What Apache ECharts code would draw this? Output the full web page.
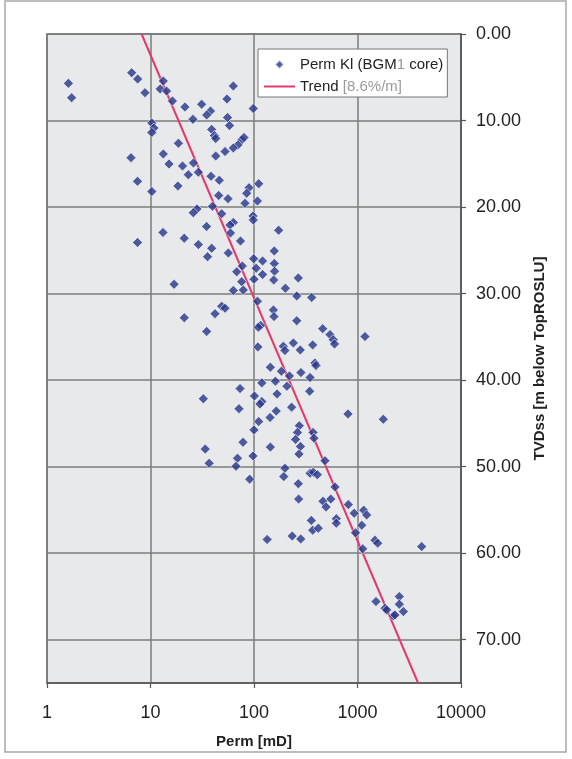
<!DOCTYPE html>
<html><head><meta charset="utf-8">
<script src="https://cdn.jsdelivr.net/npm/echarts@6/dist/echarts.min.js"></script>
<style>html,body{margin:0;padding:0;background:#fff}#c{width:572px;height:759px}</style>
</head><body><div id="c"></div>
<script>
const seriesNames = ['Perm Kl (BGM1 core)', 'Trend [8.6%/m]'];
const xTickLabels = ['1', '10', '100', '1000', '10000'];
const yTickValues = [0, 10, 20, 30, 40, 50, 60, 70];
const permValues = [
1.61, 1.73, 6.58, 7.52, 8.85, 13.3, 12.4, 14.3, 63.1, 54.8,
16.3, 21.5, 31.2, 98.4, 38.0, 34.9, 25.7, 10.3, 10.8, 10.3,
55.5, 58.0, 39.0, 41.5, 42.7, 76.0, 80.0, 70.0, 63.1, 52.5,
18.6, 42.7, 6.48, 13.3, 15.1, 20.4, 26.0, 23.2, 29.0, 38.4,
46.2, 7.49, 18.4, 111, 89.5, 85.0, 10.3, 45.6, 56.1, 81.8,
108, 39.7, 28.1, 25.9, 48.7, 97.8, 98.4, 63.1, 58.6, 34.8,
59.3, 173, 13.2, 7.49, 21.2, 74.1, 29.0, 39.0, 157, 56.5,
35.6, 99.3, 121, 157, 105, 121, 158, 155, 68.1, 77.1,
268, 100, 76.0, 16.9, 63.1, 78.8, 201, 259, 361, 108,
48.7, 52.5, 42.0, 154, 156, 21.2, 259, 116, 110, 461,
34.9, 542, 583, 600, 1181, 109, 192, 199, 240, 280,
369, 388, 397, 144, 184, 284, 348, 220, 119, 161,
73.3, 345, 208, 32.4, 167, 101, 119, 114, 71.6, 231,
164, 143, 809, 1775, 111, 100, 274, 263, 252, 281,
272, 372, 380, 78.3, 144, 33.8, 36.9, 69.3, 67.0, 97.8,
90.8, 485, 199, 194, 348, 374, 409, 268, 606, 270,
464, 497, 552, 815, 929, 1148, 1227, 624, 624, 1099,
358, 369, 418, 957, 234, 283, 134, 1476, 1567, 1122,
4169, 1510, 1845, 1914, 2218, 2301, 2535, 2535, 2773
];
const depthValues = [
5.70, 7.36, 4.47, 5.20, 6.78, 5.43, 6.35, 6.59, 6.01, 7.51,
7.74, 8.43, 8.12, 8.61, 8.90, 9.36, 9.86, 10.28, 10.86, 11.38,
9.65, 10.57, 11.03, 11.73, 12.07, 12.25, 11.96, 12.82, 13.17, 13.58,
12.63, 14.10, 14.29, 13.86, 15.02, 15.25, 14.90, 16.26, 15.97, 16.44,
16.90, 17.02, 17.56, 17.30, 17.76, 18.41, 18.20, 18.66, 19.03, 19.56,
19.30, 19.91, 20.22, 20.65, 20.77, 21.03, 21.49, 21.78, 22.07, 22.24,
22.99, 22.68, 22.93, 24.09, 23.60, 23.92, 24.34, 24.76, 25.07, 25.30,
25.73, 25.96, 26.23, 26.52, 27.07, 27.79, 27.41, 28.42, 27.48, 26.81,
28.19, 28.34, 28.62, 28.92, 29.64, 29.58, 29.38, 30.27, 30.44, 30.88,
31.46, 31.69, 32.32, 31.89, 32.66, 32.79, 33.13, 33.68, 33.89, 34.05,
34.37, 34.74, 35.32, 35.82, 34.97, 36.16, 36.08, 36.57, 35.70, 36.51,
35.93, 38.01, 38.30, 38.51, 38.97, 39.13, 39.69, 39.51, 40.32, 40.12,
40.98, 41.28, 40.70, 42.15, 41.59, 41.83, 42.48, 42.77, 43.30, 43.12,
43.58, 44.31, 43.90, 44.52, 44.79, 45.75, 45.27, 46.04, 46.85, 47.66,
48.55, 46.04, 46.71, 47.18, 47.74, 47.97, 49.60, 49.02, 49.95, 48.76,
51.44, 49.31, 50.18, 51.15, 50.76, 50.64, 50.92, 51.96, 52.34, 53.75,
53.99, 54.65, 53.75, 54.38, 55.38, 55.03, 55.58, 56.01, 56.53, 56.77,
56.21, 57.34, 57.11, 57.65, 58.02, 58.35, 58.41, 58.50, 58.84, 59.50,
59.24, 65.59, 66.35, 66.55, 67.24, 67.13, 65.01, 65.89, 66.75
];
const trendDepth = [0, 75];
const trendPerm = [8.2, 3850];

const FONT = 'Liberation Sans, Arial, sans-serif';
const chart = echarts.init(document.getElementById('c'), null, {renderer: 'canvas'});
const scatterData = permValues.map((p, i) => [p, depthValues[i]]);
const trendData = trendPerm.map((p, i) => [p, trendDepth[i]]);

chart.setOption({
  animation: false,
  backgroundColor: '#ffffff',
  graphic: [{
    type: 'rect', silent: true, z: -10,
    shape: {x: 5, y: 1, width: 561, height: 751},
    style: {fill: 'none', stroke: '#a8a8a8', lineWidth: 1.5}
  }],
  grid: {left: 47, right: 111, top: 34, bottom: 76, show: true,
    backgroundColor: '#e7e9eb', borderColor: '#666', borderWidth: 1.5},
  legend: {
    left: 258, top: 49, orient: 'vertical',
    backgroundColor: '#ffffff', borderColor: '#777', borderWidth: 1,
    padding: [8, 4, 3, 5], itemGap: 7, itemWidth: 31, itemHeight: 9,
    symbolKeepAspect: true,
    textStyle: {fontFamily: FONT, fontSize: 15, color: '#222',
      rich: {g: {fontFamily: FONT, fontSize: 15, color: '#9a9a9a'}}},
    formatter: function (name) {
      if (name === seriesNames[0]) return 'Perm Kl (BGM{g|1} core)';
      return 'Trend {g|[8.6%/m]}';
    },
    data: [
      {name: seriesNames[0], icon: 'path://M5,0L10,5L5,10L0,5Z'},
      {name: seriesNames[1], itemStyle: {opacity: 0}}
    ]
  },
  xAxis: {
    type: 'log', logBase: 10, min: 1, max: 10000,
    name: 'Perm [mD]', nameLocation: 'middle', nameGap: 51,
    nameTextStyle: {fontFamily: FONT, fontWeight: 'bold', fontSize: 15, color: '#222'},
    axisLine: {show: true, onZero: false, lineStyle: {color: '#555', width: 1.5}},
    axisTick: {show: true, length: 5, lineStyle: {color: '#555', width: 1.2}},
    minorTick: {show: false},
    axisLabel: {fontFamily: FONT, fontSize: 18, color: '#222', margin: 21,
      formatter: v => xTickLabels[Math.round(Math.log10(v))]},
    splitLine: {show: true, lineStyle: {color: '#7b7b7b', width: 1.5}}
  },
  yAxis: {
    type: 'value', inverse: true, min: 0, max: 75, interval: 10, position: 'right',
    name: 'TVDss [m below TopROSLU]', nameLocation: 'middle', nameRotate: 90, nameGap: 63,
    nameTextStyle: {fontFamily: FONT, fontWeight: 'bold', fontSize: 15, color: '#222'},
    axisLine: {show: true, lineStyle: {color: '#555', width: 1.5}},
    axisTick: {show: true, length: 5, customValues: yTickValues, lineStyle: {color: '#555', width: 1.2}},
    axisLabel: {fontFamily: FONT, fontSize: 18, color: '#222', margin: 15,
      customValues: yTickValues, formatter: v => v.toFixed(2)},
    splitLine: {show: true, lineStyle: {color: '#7b7b7b', width: 1.5}}
  },
  series: [
    {
      name: seriesNames[0], type: 'scatter', data: scatterData, z: 3,
      symbol: 'diamond', symbolSize: 10,
      itemStyle: {color: '#27348a', borderColor: 'rgba(255,255,255,0.75)', borderWidth: 1}
    },
    {
      name: seriesNames[1], type: 'line', data: trendData, z: 2,
      symbol: 'none', lineStyle: {color: '#e23a6e', width: 2}
    }
  ]
});
</script></body></html>
